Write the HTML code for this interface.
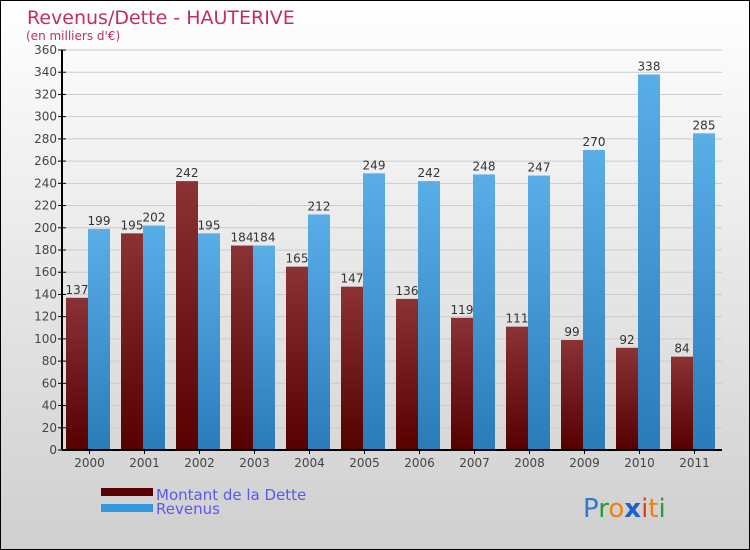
<!DOCTYPE html>
<html><head><meta charset="utf-8"><style>
body{margin:0}
#c{position:relative;width:748px;height:548px;border:1px solid #000;background:linear-gradient(#fff,#cfcfcf);font-family:"DejaVu Sans","Liberation Sans",sans-serif;overflow:hidden}
</style></head><body>
<div id="c">
<svg id="s" width="748" height="548" xmlns="http://www.w3.org/2000/svg">
<defs>
<linearGradient id="gr" x1="0" x2="0" y1="0" y2="1"><stop offset="0" stop-color="#8a3234"/><stop offset="1" stop-color="#560000"/></linearGradient>
<linearGradient id="gb" x1="0" x2="0" y1="0" y2="1"><stop offset="0" stop-color="#5aaee8"/><stop offset="1" stop-color="#2a7cb8"/></linearGradient>
</defs>
<text x="26" y="23" font-size="19" fill="#c0305a">Revenus/Dette - HAUTERIVE</text>
<text x="25" y="39" font-size="12" fill="#c0305a">(en milliers d'€)</text>
<g id="grid"></g><g id="bars"></g><g id="axes"></g>
<rect x="100" y="487" width="52" height="8" fill="#5a0000"/>
<text x="155" y="499" font-size="15" fill="#5a5aee">Montant de la Dette</text>
<rect x="100" y="503" width="52" height="8" fill="#3398e0"/>
<text x="155" y="513" font-size="15" fill="#5a5aee">Revenus</text>
<text x="582" y="516" font-size="26" font-family="'DejaVu Sans',sans-serif"><tspan fill="#2a7cd0">P</tspan><tspan fill="#2a9a3a">r</tspan><tspan fill="#f08010">o</tspan><tspan fill="#1a60d0" font-weight="bold">x</tspan><tspan fill="#e04010">i</tspan><tspan fill="#f08010">t</tspan><tspan fill="#2a9a3a">i</tspan></text>
</svg></div>
<script>
const years=["2000","2001","2002","2003","2004","2005","2006","2007","2008","2009","2010","2011"];
const dette=[137,195,242,184,165,147,136,119,111,99,92,84];
const revenus=[199,202,195,184,212,249,242,248,247,270,338,285];
const ticks=[0,20,40,60,80,100,120,140,160,180,200,220,240,260,280,300,320,340,360];
const NS="http://www.w3.org/2000/svg";
const x0=61,x1=721,y0=449,yTop=49,max=360;
const y=v=>y0-(v/max)*(y0-yTop);
const gw=(x1-x0)/years.length;
function mk(t,a,p){const e=document.createElementNS(NS,t);for(const k in a)e.setAttribute(k,a[k]);p.appendChild(e);return e;}
const G=document.getElementById('grid'),B=document.getElementById('bars'),A=document.getElementById('axes');
ticks.forEach(t=>{
 const l=mk('line',{x1:x0,x2:x1,y1:y(t),y2:y(t),stroke:'#ccc','stroke-width':1},G);
 
 
 const k=mk('line',{x1:x0-4,x2:x0+4,y1:y(t),y2:y(t),stroke:'#000'},A);
 
 
 const tx=mk('text',{x:x0-5,y:y(t)+4,'text-anchor':'end','font-size':12,fill:'#444'},A);
 tx.textContent=t;
 
 
});
years.forEach((yr,i)=>{
 const gx=x0+i*gw, bw=22;
 const r=mk('rect',{x:gx+4,y:y(dette[i]),width:bw,height:y0-y(dette[i]),fill:'url(#gr)'},B);
 
 
 const b=mk('rect',{x:gx+4+bw,y:y(revenus[i]),width:bw,height:y0-y(revenus[i]),fill:'url(#gb)'},B);
 
 
 const l1=mk('text',{x:gx+4+bw/2,y:y(dette[i])-4,'text-anchor':'middle','font-size':12,fill:'#333'},B);
 l1.textContent=dette[i];
 
 
 const l2=mk('text',{x:gx+4+bw*1.5,y:y(revenus[i])-4,'text-anchor':'middle','font-size':12,fill:'#333'},B);
 l2.textContent=revenus[i];
 
 
 const xt=mk('text',{x:gx+gw/2,y:y0+17,'text-anchor':'middle','font-size':12,fill:'#444'},A);
 xt.textContent=yr;
 
 
 const xk=mk('line',{x1:gx+gw/2,x2:gx+gw/2,y1:y0,y2:y0+4,stroke:'#000'},A);
 
 
});
const ya=mk('line',{x1:x0,x2:x0,y1:yTop,y2:y0,stroke:'#000','stroke-width':2},A);


const xa=mk('line',{x1:x0,x2:x1,y1:y0,y2:y0,stroke:'#000','stroke-width':2},A);


</script>
</body></html>
